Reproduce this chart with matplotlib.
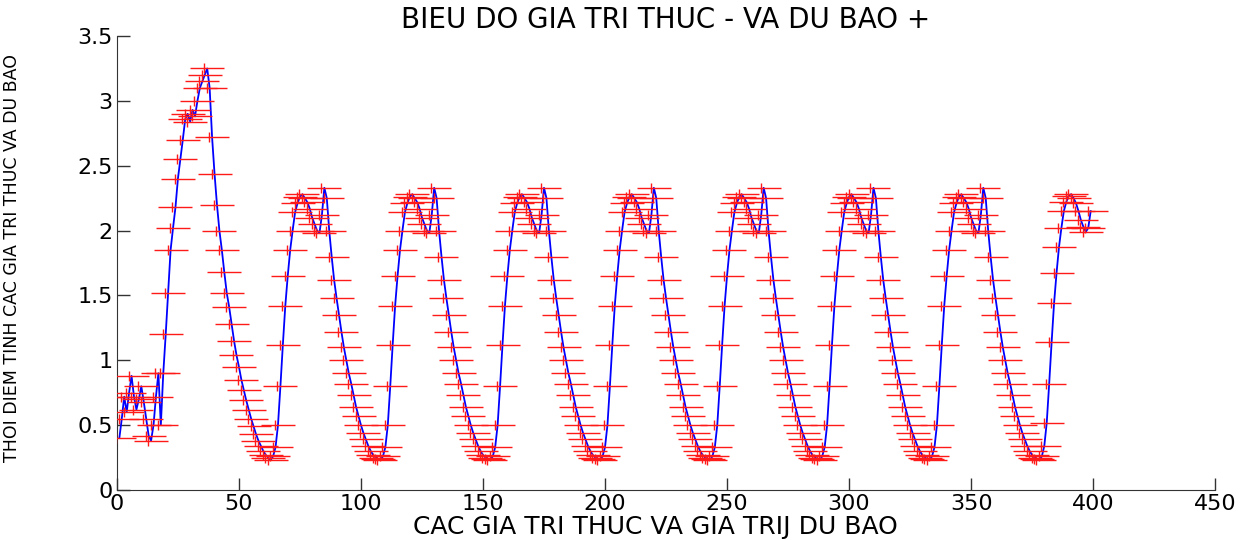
import numpy as np
import matplotlib
matplotlib.use("Agg")
import matplotlib.pyplot as plt
from matplotlib.path import Path

# values (x = 1 .. 399)
first_part = [0.40, 0.55, 0.72, 0.60, 0.75, 0.88, 0.72, 0.62, 0.70, 0.80,
              0.68, 0.55, 0.42, 0.38, 0.50, 0.72, 0.90, 0.50, 0.90, 1.20,
              1.52, 1.85, 2.02, 2.18, 2.40, 2.55, 2.70, 2.86, 2.90, 2.84,
              2.93, 2.88, 3.00, 3.10, 3.15, 3.20, 3.25, 3.10, 2.72, 2.44,
              2.20, 2.00, 1.85, 1.68, 1.52, 1.41, 1.28, 1.15, 1.04, 0.95,
              0.85, 0.77, 0.69, 0.62, 0.55, 0.49, 0.43, 0.38, 0.34, 0.30,
              0.27, 0.25]

# one oscillation, from trough to trough (repeats about every 45 samples)
cycle = [0.23, 0.26, 0.33, 0.50, 0.80, 1.12, 1.42, 1.65, 1.85, 2.00,
         2.14, 2.21, 2.26, 2.28, 2.25, 2.22, 2.17, 2.10, 2.05, 2.00,
         1.98, 2.12, 2.33, 2.25, 2.00, 1.80, 1.62, 1.48, 1.35, 1.22,
         1.10, 1.00, 0.90, 0.82, 0.73, 0.64, 0.57, 0.50, 0.44, 0.39,
         0.34, 0.30, 0.27, 0.25, 0.24]
n_cycles = 7

last_part = [0.23, 0.26, 0.34, 0.52, 0.82, 1.14, 1.44, 1.67, 1.87, 2.02,
             2.15, 2.22, 2.27, 2.28, 2.25, 2.21, 2.15, 2.08, 2.03, 1.99,
             2.02, 2.15]

actual = first_part + cycle * n_cycles + last_part
forecast = actual  # forecast points sit on the measured curve
x = np.arange(1, len(actual) + 1)

title = "BIEU DO GIA TRI THUC - VA DU BAO +"
xlabel = "CAC GIA TRI THUC VA GIA TRIJ DU BAO"
ylabel = "THOI DIEM TINH CAC GIA TRI THUC VA DU BAO"
xticks = [0, 50, 100, 150, 200, 250, 300, 350, 400, 450]
yticks = [0, 0.5, 1, 1.5, 2, 2.5, 3, 3.5]

# stretched "+" marker like in the exported MATLAB picture
plus_marker = Path([(-1, 0), (1, 0), (-0.2, -0.3), (-0.2, 0.3)],
                   [Path.MOVETO, Path.LINETO, Path.MOVETO, Path.LINETO])

fig = plt.figure(figsize=(12.57, 5.4), dpi=100)
ax = fig.add_axes([0.093, 0.0926, 0.8737, 0.8407])

ax.plot(x, actual, color="#0000ff", linewidth=1.3, zorder=2)
ax.plot(x, forecast, linestyle="none", marker=plus_marker, markersize=24,
        markeredgewidth=1.0, markeredgecolor="#ff1a1a", zorder=3)

ax.set_xlim(0, 450)
ax.set_ylim(0, 3.5)
ax.set_xticks(xticks)
ax.set_yticks(yticks)
ax.set_yticklabels(["0", "0.5", "1", "1.5", "2", "2.5", "3", "3.5"])

for side in ["top", "right"]:
    ax.spines[side].set_visible(False)
ax.spines["left"].set_color("#333333")
ax.spines["bottom"].set_color("#333333")
ax.tick_params(direction="in", length=9, width=1, colors="#333333",
               labelcolor="black", labelsize=16, pad=3)
for lab in ax.get_xticklabels() + ax.get_yticklabels():
    lab.set_family("DejaVu Sans")

ax.set_title(title, fontsize=20, family="DejaVu Sans", pad=6)
ax.set_xlabel(xlabel, fontsize=18, family="DejaVu Sans", va="baseline")
ax.xaxis.set_label_coords(0.49, -0.096)
ax.set_ylabel(ylabel, fontsize=12.5, family="DejaVu Sans")
ax.yaxis.set_label_coords(-0.087, 0.51)

fig.savefig("out.png", dpi=100)
